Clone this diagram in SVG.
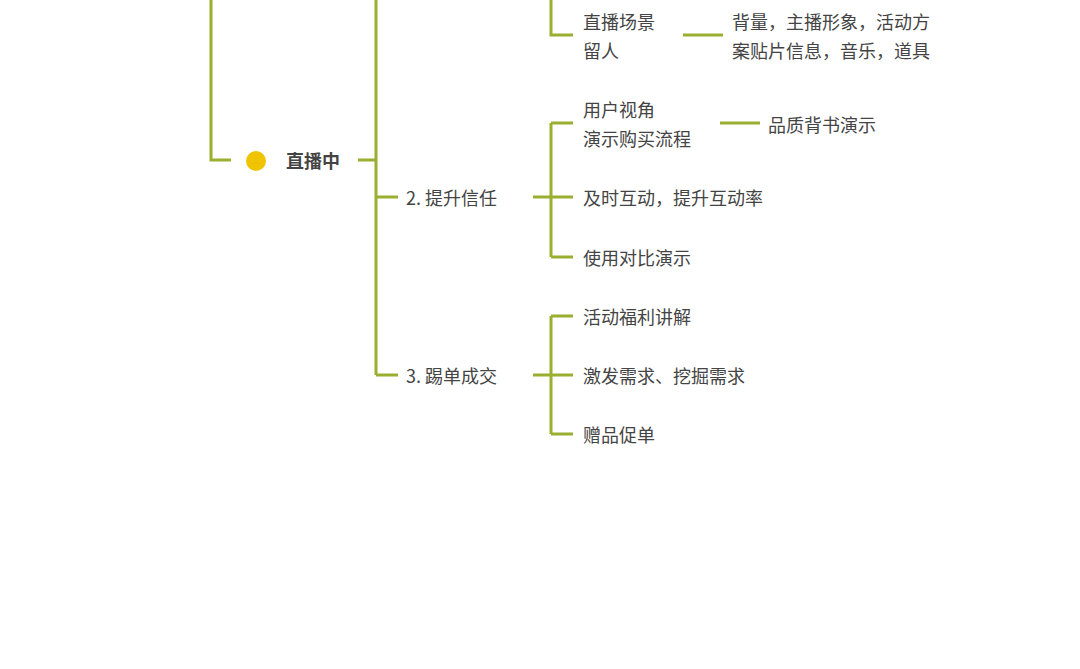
<svg xmlns="http://www.w3.org/2000/svg" width="1080" height="669" viewBox="0 0 1080 669">
<style>
.l{fill:none;stroke:#9aae2f;stroke-width:3}
text{font-family:"Noto Sans CJK SC","Noto Sans",sans-serif;font-size:18px;fill:#444;dominant-baseline:central}
.b{font-weight:bold}
</style>
<rect width="1080" height="669" fill="#fff"/>
<g id="connectors">
<path class="l" d="M211,0V160H231"/>
<path class="l" d="M358,160H376M376,0V375M376,197H398M376,375H398"/>
<path class="l" d="M551,0V35H573M683,35H723"/>
<path class="l" d="M533,197H573M551,123V257M551,123H573M551,257H573M720,123H760"/>
<path class="l" d="M533,375H573M551,316V434M551,316H573M551,434H573"/>
</g>
<g id="n-live"><circle cx="256" cy="161" r="10" fill="#f0c400"/><text class="b" x="286" y="160">直播中</text></g>
<g id="n-scene"><text x="583" y="21">直播场景</text><text x="583" y="50">留人</text></g>
<g id="n-scene-d"><text x="732" y="21">背量，主播形象，活动方</text><text x="732" y="50">案贴片信息，音乐，道具</text></g>
<g id="n-trust"><text x="406" y="197">2.  提升信任</text></g>
<g id="n-view"><text x="583" y="109">用户视角</text><text x="583" y="138">演示购买流程</text></g>
<g id="n-quality"><text x="768" y="124">品质背书演示</text></g>
<g id="n-inter"><text x="583" y="197">及时互动，提升互动率</text></g>
<g id="n-compare"><text x="583" y="257">使用对比演示</text></g>
<g id="n-deal"><text x="406" y="375">3.  踢单成交</text></g>
<g id="n-welfare"><text x="583" y="316">活动福利讲解</text></g>
<g id="n-need"><text x="583" y="375">激发需求、挖掘需求</text></g>
<g id="n-gift"><text x="583" y="434">赠品促单</text></g>
</svg>
